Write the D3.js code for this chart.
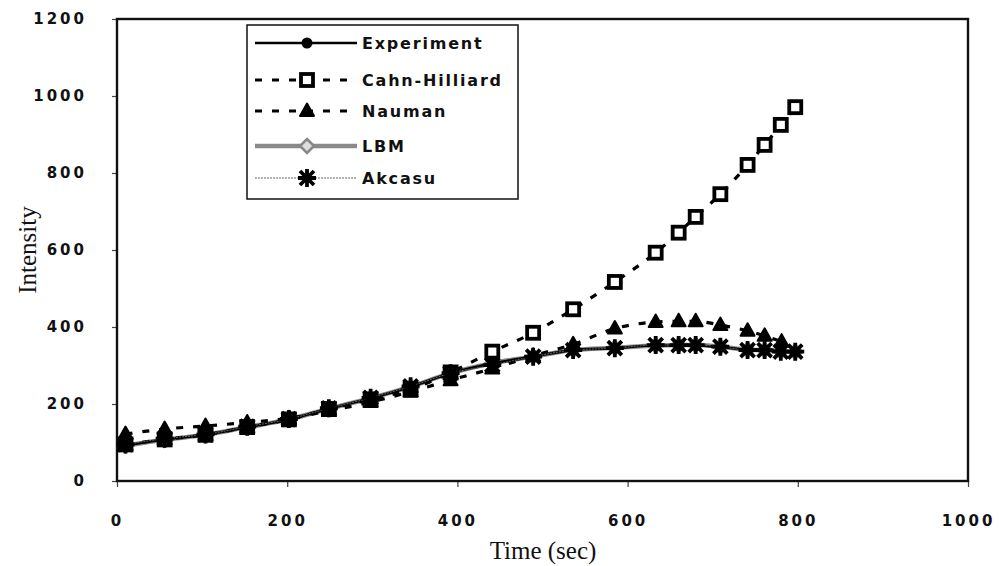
<!DOCTYPE html>
<html>
<head>
<meta charset="utf-8">
<script src="https://cdn.jsdelivr.net/npm/d3@7"></script>
<style>
  html, body { margin: 0; padding: 0; background: #fff; }
  svg { display: block; }
</style>
</head>
<body>
<svg id="chart" width="999" height="566"></svg>
<script>
// ---- data ----
const times       = [10, 56, 104, 153, 202, 249, 298, 345, 392, 441, 489, 536, 585, 633, 660, 680, 709, 741, 761, 780, 797];
const experiment  = [93, 108, 120, 140, 160, 188, 215, 245, 280, 305, 323, 340, 345, 352, 352, 352, 348, 341, 340, 337, 336];
const cahnHilliard= [95, 108, 120, 140, 160, 187, 212, 238, 282, 336, 385, 446, 517, 593, 645, 686, 745, 821, 873, 925, 971];
const naumanTimes = [10, 56, 104, 153, 202, 249, 298, 345, 392, 441, 489, 536, 585, 633, 660, 680, 709, 741, 761, 781];
const nauman      = [122, 135, 143, 152, 163, 182, 205, 232, 262, 292, 325, 355, 396, 413, 415, 415, 405, 390, 377, 362];
const lbm         = [92, 107, 120, 140, 160, 188, 215, 245, 280, 306, 323, 340, 346, 352, 353, 353, 349, 341, 340, 337, 336];
const akcasu      = [95, 110, 121, 141, 161, 189, 216, 246, 280, 301, 323, 340, 345, 353, 353, 353, 349, 340, 340, 336, 336];
const xTicks = [0, 200, 400, 600, 800, 1000];
const yTicks = [0, 200, 400, 600, 800, 1000, 1200];
const seriesNames = ["Experiment", "Cahn-Hilliard", "Nauman", "LBM", "Akcasu"];

// ---- layout ----
const svg = d3.select("#chart");
const L = 117, R = 968, T = 19, B = 481;
const x = d3.scaleLinear().domain([0, 1000]).range([L, R]);
const y = d3.scaleLinear().domain([0, 1200]).range([B, T]);

const tickFont = "'DejaVu Sans', sans-serif";
const fmt = d3.format("d");

// axes
const xAxis = svg.append("g").attr("transform", `translate(0,${B})`)
  .call(d3.axisBottom(x).tickValues(xTicks).tickFormat(fmt).tickSize(6).tickSizeOuter(0).tickPadding(28));
const yAxis = svg.append("g").attr("transform", `translate(${L},0)`)
  .call(d3.axisLeft(y).tickValues(yTicks).tickFormat(fmt).tickSize(5).tickSizeOuter(0).tickPadding(25));
[xAxis, yAxis].forEach(g => {
  g.select(".domain").remove();
  g.selectAll(".tick line").attr("stroke", "#444").attr("stroke-width", 1.2);
  g.selectAll(".tick text")
    .attr("font-family", tickFont).attr("font-weight", "bold")
    .attr("font-size", 15).attr("letter-spacing", "3px").attr("fill", "#111");
});

// frame
svg.append("rect").attr("x", L).attr("y", T).attr("width", R - L).attr("height", B - T)
  .attr("fill", "none").attr("stroke", "#111").attr("stroke-width", 2.4);

// axis titles
svg.append("text").attr("x", 543).attr("y", 559).attr("text-anchor", "middle")
  .attr("font-family", "'Liberation Serif', serif").attr("font-size", 25).attr("fill", "#111")
  .text("Time (sec)");
svg.append("text").attr("transform", "translate(36,250) rotate(-90)").attr("text-anchor", "middle")
  .attr("font-family", "'Liberation Serif', serif").attr("font-size", 25).attr("fill", "#111")
  .text("Intensity");

// ---- markers ----
function drawMarker(g, type, cx, cy) {
  if (type === "circle") {
    g.append("circle").attr("cx", cx).attr("cy", cy).attr("r", 5.5).attr("fill", "#000");
  } else if (type === "square") {
    g.append("rect").attr("x", cx - 6).attr("y", cy - 6).attr("width", 12).attr("height", 12)
      .attr("fill", "#fff").attr("stroke", "#000").attr("stroke-width", 3.8);
  } else if (type === "triangle") {
    g.append("path").attr("d", `M${cx},${cy - 7.5}L${cx + 7},${cy + 5}L${cx - 7},${cy + 5}Z`)
      .attr("fill", "#000").attr("stroke", "#000").attr("stroke-width", 2).attr("stroke-linejoin", "round");
  } else if (type === "diamond") {
    g.append("path").attr("d", `M${cx},${cy - 7}L${cx + 7},${cy}L${cx},${cy + 7}L${cx - 7},${cy}Z`)
      .attr("fill", "#ddd").attr("stroke", "#888").attr("stroke-width", 2.5);
  } else if (type === "star") {
    const r = 9, d = 7;
    g.append("path")
      .attr("d", `M${cx},${cy - r}L${cx},${cy + r}M${cx - d},${cy - d}L${cx + d},${cy + d}M${cx - d},${cy + d}L${cx + d},${cy - d}M${cx - r},${cy}L${cx + r},${cy}`)
      .attr("stroke", "#000").attr("stroke-width", 3.8).attr("stroke-linecap", "butt");
  }
}

const series = [
  { name: seriesNames[0], xs: times, ys: experiment, stroke: "#000", width: 2.6, dash: null, marker: "circle" },
  { name: seriesNames[1], xs: times, ys: cahnHilliard, stroke: "#000", width: 3.2, dash: "7,10", marker: "square" },
  { name: seriesNames[2], xs: naumanTimes, ys: nauman, stroke: "#000", width: 3.2, dash: "7,10", marker: "triangle" },
  { name: seriesNames[3], xs: times, ys: lbm, stroke: "#8a8a8a", width: 4.5, dash: null, marker: "diamond" },
  { name: seriesNames[4], xs: times, ys: akcasu, stroke: "#666", width: 1, dash: "2,1", marker: "star" }
];

const line = d3.line().x(d => x(d[0])).y(d => y(d[1])).curve(d3.curveMonotoneX);
// draw the wide gray LBM line first so the black experiment line stays on top
const drawOrder = [3, 0, 1, 2, 4];
drawOrder.forEach(k => {
  const s = series[k];
  const pts = s.xs.map((t, i) => [t, s.ys[i]]);
  const g = svg.append("g");
  g.append("path").datum(pts).attr("d", line).attr("fill", "none")
    .attr("stroke", s.stroke).attr("stroke-width", s.width)
    .attr("stroke-dasharray", s.dash);
  pts.forEach(p => drawMarker(g, s.marker, x(p[0]), y(p[1])));
});

// ---- legend ----
const lg = svg.append("g");
lg.append("rect").attr("x", 247).attr("y", 25).attr("width", 271).attr("height", 174)
  .attr("fill", "#fff").attr("stroke", "#111").attr("stroke-width", 1.5);
const rowY = [43, 80, 111, 146, 178];
series.forEach((s, i) => {
  const yy = rowY[i];
  lg.append("line").attr("x1", 255).attr("x2", 357).attr("y1", yy).attr("y2", yy)
    .attr("stroke", s.stroke).attr("stroke-width", s.width).attr("stroke-dasharray", s.dash);
  drawMarker(lg, s.marker, 307, yy);
  lg.append("text").attr("x", 362).attr("y", yy + 6)
    .attr("font-family", tickFont).attr("font-weight", "bold").attr("font-size", 16)
    .attr("letter-spacing", "1.8px").attr("fill", "#111").text(s.name);
});
</script>
</body>
</html>
